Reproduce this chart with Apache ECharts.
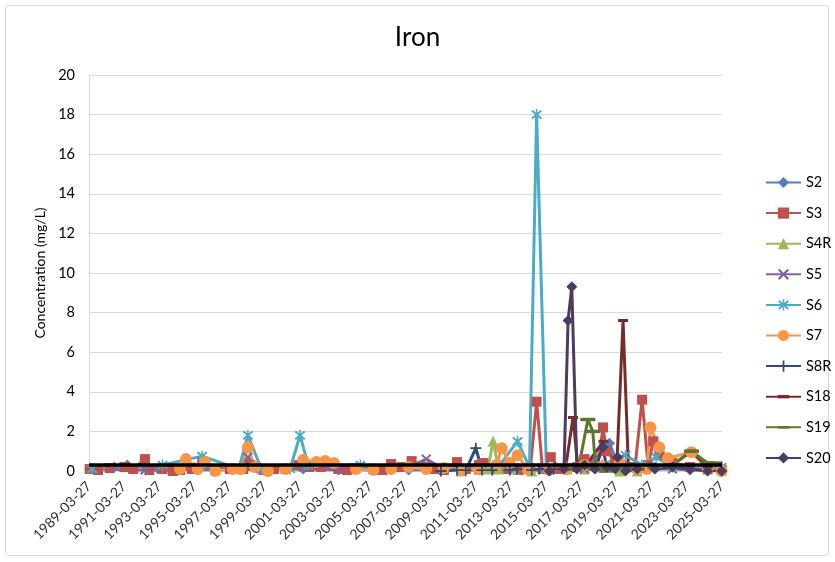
<!DOCTYPE html>
<html>
<head>
<meta charset="utf-8">
<script src="https://cdn.jsdelivr.net/npm/echarts@6/dist/echarts.min.js"></script>
<style>html,body{margin:0;padding:0;background:#fff}#c{width:835px;height:562px}</style>
</head>
<body>
<div id="c"></div>
<script>
// ---- data (dates, concentration mg/L) ----
const tickYears = [1989,1991,1993,1995,1997,1999,2001,2003,2005,2007,2009,2011,2013,2015,2017,2019,2021,2023,2025];
const seriesNames = ['S2','S3','S4R','S5','S6','S7','S8R','S18','S19','S20'];

const s2Dates = ['1989-04-10','1990-09-01','1991-06-01','1993-03-01','1995-06-01','1997-06-01','1999-06-01','2001-06-01','2003-06-01','2005-06-01','2007-06-01','2009-06-01','2011-06-01','2013-06-01','2015-06-01','2017-06-01','2018-11-01','2019-06-01','2021-06-01','2023-06-01','2025-03-20'];
const s2Vals  = [0.1,0.2,0.3,0.1,0.05,0.1,0.05,0.1,0.05,0.1,0.05,0.1,0.05,0.1,0.05,0.1,1.4,0.1,0.2,0.05,0.1];

const s3Dates = ['1989-04-10','1989-10-01','1990-06-01','1991-04-01','1991-10-01','1992-06-01','1992-09-01','1993-06-01','1994-01-01','1994-06-01','1995-02-01','1995-09-01','1996-06-01','1997-04-01','1998-01-01','1998-06-01','1999-03-01','1999-10-01','2000-06-01','2001-03-01','2001-10-01','2002-06-01','2003-06-01','2003-12-01','2004-06-01','2005-06-01','2005-12-01','2006-06-01','2007-01-01','2007-08-01','2008-06-01','2008-12-01','2009-06-01','2010-03-01','2010-09-01','2011-06-01','2011-09-01','2012-06-01','2013-01-01','2013-09-01','2014-05-01','2014-09-10','2015-01-10','2015-07-01','2016-01-01','2016-06-01','2017-01-01','2017-06-01','2018-03-01','2018-06-20','2018-09-01','2019-03-01','2019-09-01','2020-04-15','2020-09-10','2021-01-10','2021-05-01','2021-09-01','2022-06-01','2023-06-01','2024-06-01','2025-03-20'];
const s3Vals  = [0.1,0.05,0.15,0.2,0.1,0.6,0.05,0.1,0.0,0.05,0.1,0.45,0.05,0.1,0.1,0.3,0.05,0.1,0.1,0.3,0.2,0.2,0.1,0.05,0.15,0.1,0.05,0.35,0.2,0.5,0.2,0.1,0.05,0.45,0.1,0.3,0.4,0.1,0.1,0.05,0.1,3.5,0.1,0.7,0.1,0.1,0.2,0.6,0.2,2.2,1.0,0.5,0.2,0.2,3.6,0.3,1.5,0.8,0.4,0.2,0.1,0.05];

const s4rDates = ['2010-06-01','2011-06-01','2011-12-01','2012-03-20','2012-07-15','2013-06-01','2014-06-01','2016-06-01','2017-06-01','2018-06-01','2019-06-01','2020-06-01'];
const s4rVals  = [0.0,0.1,0.1,1.5,0.1,0.1,0.0,0.1,0.1,0.2,0.0,0.0];

const s5Dates = ['1989-06-01','1992-06-01','1995-06-01','1997-11-01','1998-04-10','1999-01-01','2001-06-01','2003-06-01','2005-06-01','2007-06-01','2008-06-01','2009-06-01','2011-06-01','2012-06-01','2013-06-01','2015-06-01','2017-06-01','2019-06-01','2020-06-01','2022-06-01','2024-06-01'];
const s5Vals  = [0.1,0.05,0.2,0.1,0.7,0.1,0.2,0.1,0.05,0.2,0.6,0.1,0.05,0.3,0.1,0.05,0.1,0.6,0.1,0.1,0.05];

const s6Dates = ['1989-06-01','1993-06-01','1995-09-01','1997-10-01','1998-04-10','1999-01-15','2000-09-01','2001-03-27','2001-09-15','2004-09-01','2009-06-01','2012-08-01','2013-08-10','2014-04-15','2014-09-10','2015-04-01','2016-06-01','2018-06-01','2019-10-01','2020-09-01','2021-07-01','2022-06-01','2025-03-20'];
const s6Vals  = [0.1,0.3,0.75,0.1,1.8,0.1,0.1,1.8,0.3,0.3,0.1,0.3,1.5,0.2,18,0.1,0.2,0.3,0.8,0.3,0.7,0.2,0.2];

const s7Dates = ['1994-06-01','1994-10-01','1995-06-01','1995-11-01','1996-06-01','1997-06-01','1997-11-15','1998-04-10','1998-09-01','1999-06-01','2000-06-01','2001-06-01','2002-03-01','2002-09-01','2003-03-01','2004-06-01','2005-06-01','2006-06-01','2007-06-01','2008-06-01','2009-06-01','2010-06-01','2011-06-01','2012-06-01','2012-09-15','2013-03-01','2013-08-10','2014-03-01','2015-06-01','2016-06-01','2017-06-01','2018-06-01','2019-06-01','2020-06-01','2020-12-15','2021-03-01','2021-09-01','2022-03-01','2023-07-01','2024-06-01','2025-03-20'];
const s7Vals  = [0.1,0.6,0.1,0.45,0.0,0.1,0.1,1.2,0.2,0.0,0.1,0.55,0.45,0.5,0.4,0.1,0.05,0.1,0.2,0.1,0.15,0.05,0.1,0.3,1.15,0.4,0.8,0.1,0.05,0.1,0.3,0.2,0.4,0.1,0.1,2.2,1.2,0.65,0.95,0.1,0.0];

const s8rDates = ['2009-04-01','2010-03-01','2010-09-01','2011-03-27','2011-08-01','2012-03-01','2013-03-01','2013-08-01','2014-06-01','2014-11-01','2015-09-01'];
const s8rVals  = [0.0,0.05,0.05,1.15,0.05,0.05,0.05,0.1,0.05,0.1,0.1];

const s18Dates = ['2016-05-01','2016-10-05','2017-01-15','2017-06-01','2018-07-01','2019-04-01','2019-08-10','2019-12-01','2020-03-01','2021-06-01','2022-06-01','2023-07-01','2024-06-01'];
const s18Vals  = [0.1,2.7,0.2,0.2,1.5,0.2,7.6,0.1,0.1,0.1,0.3,1.0,0.2];

const s19Dates = ['2016-06-01','2017-02-01','2017-08-10','2017-11-20','2018-01-20','2018-09-01','2019-06-01','2020-06-01','2021-06-01','2022-06-01','2023-07-01','2024-06-01','2024-11-01'];
const s19Vals  = [0.1,0.2,2.6,2.0,0.1,0.0,0.2,0.1,0.2,0.3,1.0,0.4,0.4];

const s20Dates = ['2015-06-01','2016-04-01','2016-06-25','2016-09-10','2016-12-25','2017-06-01','2018-01-01','2018-06-20','2018-09-01','2019-03-01','2019-04-20','2019-10-01','2020-06-01','2021-06-01','2022-06-01','2023-06-01','2024-06-01','2025-03-20'];
const s20Vals  = [0.0,0.1,7.6,9.3,0.1,0.3,0.1,1.2,0.2,0.1,0.7,0.0,0.1,0.1,0.2,0.1,0.0,0.0];

const guideDates = ['1989-03-27','2025-03-27'];
const guideVals  = [0.3,0.3];

// ---- helpers ----
function toX(d){
  const p = d.split('-').map(Number);
  const t = Date.UTC(p[0],p[1]-1,p[2]);
  const a = Date.UTC(p[0],2,27);
  return (p[0]-1989) + (t-a)/(365.25*864e5);
}
function pts(dates, vals){ return dates.map((d,i)=>[toX(d), vals[i]]); }

const X_PATH = 'path://M0,1.4 L1.4,0 L5,3.6 L8.6,0 L10,1.4 L6.4,5 L10,8.6 L8.6,10 L5,6.4 L1.4,10 L0,8.6 L3.6,5 Z';
const PLUS_PATH = 'path://M4.2,0 H5.8 V4.2 H10 V5.8 H5.8 V10 H4.2 V5.8 H0 V4.2 H4.2 Z';
const STAR_PATH = 'path://M0,1.4 L1.4,0 L5,3.6 L8.6,0 L10,1.4 L6.4,5 L10,8.6 L8.6,10 L5,6.4 L1.4,10 L0,8.6 L3.6,5 Z M4.3,-1 H5.7 V11 H4.3 Z';
// dash markers drawn inside an invisible square box so they keep their shape in the legend
const SHORT_DASH = 'path://M0,0 M10,10 M0,3.5 H10 V6.5 H0 Z';
const LONG_DASH = 'path://M0,0 M15,15 M0,5.75 H15 V9.25 H0 Z';

const defs = [
  {name:'S2',  c:'#4F81BD', d:pts(s2Dates,s2Vals),   sym:'diamond', size:11},
  {name:'S3',  c:'#C0504D', d:pts(s3Dates,s3Vals),   sym:'rect', size:10},
  {name:'S4R', c:'#9BBB59', d:pts(s4rDates,s4rVals), sym:'triangle', size:11},
  {name:'S5',  c:'#8064A2', d:pts(s5Dates,s5Vals),   sym:X_PATH, size:10},
  {name:'S6',  c:'#4BACC6', d:pts(s6Dates,s6Vals),   sym:STAR_PATH, size:11},
  {name:'S7',  c:'#F79646', d:pts(s7Dates,s7Vals),   sym:'circle', size:12},
  {name:'S8R', c:'#2C4D75', d:pts(s8rDates,s8rVals), sym:PLUS_PATH, size:11},
  {name:'S18', c:'#772C2A', d:pts(s18Dates,s18Vals), sym:SHORT_DASH, size:10},
  {name:'S19', c:'#5F7530', d:pts(s19Dates,s19Vals), sym:LONG_DASH, size:15},
  {name:'S20', c:'#4D3B62', d:pts(s20Dates,s20Vals), sym:'diamond', size:11}
];

const series = defs.map(s=>({
  name:s.name, type:'line', data:s.d, symbol:s.sym, symbolSize:s.size, showAllSymbol:true,
  lineStyle:{color:s.c, width:3, join:'round'},
  itemStyle:{color:s.c},
  emphasis:{disabled:true}
}));
series.push({
  name:'Guideline', type:'line', data:pts(guideDates,guideVals), symbol:'none',
  lineStyle:{color:'#000', width:3.5}, z:5, emphasis:{disabled:true}
});

const FONT = 'Lato, "Open Sans", sans-serif';
const chart = echarts.init(document.getElementById('c'), null, {renderer:'canvas'});
chart.setOption({
  animation:false,
  backgroundColor:'#fff',
  textStyle:{fontFamily:FONT},
  title:{text:'Iron', left:'center', top:20, textStyle:{fontFamily:FONT, fontSize:26, fontWeight:'normal', color:'#000'}},
  graphic:[{type:'rect', shape:{x:5.5,y:5.5,width:823,height:550,r:3}, style:{fill:'none', stroke:'#d9d9d9', lineWidth:1}, silent:true, z:-10}],
  legend:{
    orient:'vertical', left:760, top:170, itemWidth:35, itemHeight:14, itemGap:15.6,
    data:seriesNames, textStyle:{fontFamily:FONT, fontSize:14.5, color:'#000'},
  },
  grid:{left:89, right:113, top:75, bottom:91, containLabel:false},
  xAxis:{
    type:'value', min:0, max:36, interval:2,
    axisLine:{show:true, lineStyle:{color:'#d9d9d9', width:1}},
    axisTick:{show:false},
    splitLine:{show:false},
    axisLabel:{rotate:45, fontSize:14, color:'#333', fontFamily:FONT, margin:13,
      formatter:v=>tickYears[Math.round(v/2)]+'-03-27'}
  },
  yAxis:{
    type:'value', min:0, max:20, interval:2,
    name:'Concentration (mg/L)', nameLocation:'middle', nameGap:42,
    nameTextStyle:{fontSize:14, color:'#000', fontFamily:FONT},
    axisLine:{show:true, lineStyle:{color:'#d9d9d9', width:1}},
    axisTick:{show:false},
    splitLine:{lineStyle:{color:'#d9d9d9', width:1}},
    axisLabel:{fontSize:14.5, color:'#000', fontFamily:FONT, margin:14}
  },
  series:series
});
</script>
</body>
</html>
